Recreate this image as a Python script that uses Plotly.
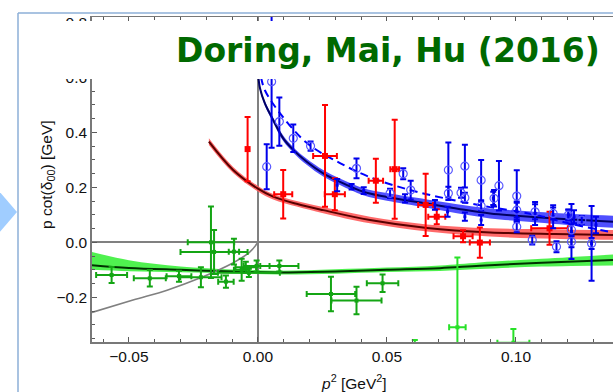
import plotly.graph_objects as go

# ---------------- data ----------------
x_range = [-0.0643, 0.1376]
y_range = [-0.3625, 0.8193]

x_tickvals = [-0.05, 0.0, 0.05, 0.10]
y_tickvals = [-0.2, 0.0, 0.2, 0.4, 0.6, 0.8]

# blue fit (solid) with band
blue_p2 = [0.0, 0.0008, 0.0027, 0.0059, 0.0098, 0.0137, 0.0189, 0.0253, 0.0318, 0.0408,
           0.05, 0.0655, 0.08, 0.09, 0.1, 0.115, 0.1376]
blue_v = [0.62, 0.56, 0.505, 0.445, 0.378, 0.336, 0.293, 0.251, 0.22, 0.184,
          0.165, 0.141, 0.118, 0.105, 0.097, 0.087, 0.075]
blue_hw = [0.006, 0.007, 0.008, 0.009, 0.01, 0.01, 0.011, 0.012, 0.012, 0.013,
           0.014, 0.015, 0.017, 0.018, 0.019, 0.02, 0.022]

# blue dashed fit
dash_p2 = [0.0012, 0.0027, 0.0085, 0.019, 0.0318, 0.0434, 0.059, 0.075, 0.09, 0.1,
           0.109, 0.12, 0.13, 0.1376]
dash_v = [0.60, 0.553, 0.47, 0.361, 0.288, 0.237, 0.19, 0.155, 0.128, 0.113,
          0.097, 0.07, 0.05, 0.036]

# red fit with band
red_p2 = [-0.019, -0.0096, 0.0, 0.0059, 0.015, 0.0253, 0.0434, 0.0655, 0.09, 0.115, 0.1376]
red_v = [0.366, 0.263, 0.195, 0.166, 0.14, 0.117, 0.081, 0.052, 0.036, 0.03, 0.027]
red_hw = [0.012, 0.011, 0.01, 0.01, 0.01, 0.011, 0.012, 0.013, 0.015, 0.017, 0.018]

# green fit with band
green_p2 = [-0.0643, -0.05, -0.03, -0.01, 0.0085, 0.03, 0.05, 0.0705, 0.086, 0.11, 0.1376]
green_v = [-0.083, -0.093, -0.1, -0.106, -0.11, -0.106, -0.1, -0.094, -0.085, -0.074, -0.064]
green_lo = [-0.10, -0.105, -0.109, -0.113, -0.117, -0.114, -0.108, -0.104, -0.097, -0.088, -0.084]
green_hi = [-0.035, -0.065, -0.088, -0.099, -0.103, -0.098, -0.092, -0.084, -0.073, -0.06, -0.044]

# gray curve
gray_p2 = [-0.0643, -0.0484, -0.0352, -0.0225, -0.0097, -0.0031, 0.0]
gray_v = [-0.255, -0.21, -0.174, -0.13, -0.075, -0.035, 0.0]

# red data
red_x = [-0.004, 0.0098, 0.026, 0.0298, 0.0457, 0.053, 0.065, 0.0693, 0.0795, 0.086, 0.113]
red_y = [0.339, 0.175, 0.314, 0.175, 0.224, 0.266, 0.136, 0.093, 0.022, -0.001, 0.051]
red_xe = [0.0, 0.0035, 0.0046, 0.0039, 0.0028, 0.0017, 0.0029, 0.0033, 0.0037, 0.0039, 0.0071]
red_ye = [0.117, 0.088, 0.185, 0.058, 0.08, 0.18, 0.113, 0.027, 0.022, 0.055, 0.06]

# blue data, open circles
bo_x = [0.0034, 0.0053, 0.0083, 0.0137, 0.0204, 0.0382, 0.0512, 0.0563, 0.0592, 0.0738,
        0.0738, 0.0787, 0.0802, 0.0802, 0.0865, 0.0865, 0.0934, 0.0915, 0.1003, 0.1003,
        0.1003, 0.1074, 0.1063, 0.1144, 0.1157, 0.1203, 0.1215, 0.1215, 0.1255, 0.1293]
bo_y = [0.275, 0.584, 0.439, 0.378, 0.35, 0.269, 0.178, 0.249, 0.19, 0.263,
        0.178, 0.18, 0.277, 0.162, 0.226, 0.132, 0.206, 0.16, 0.168, 0.117,
        0.057, 0.111, 0.008, 0.105, -0.016, 0.099, 0.045, 0.002, 0.081, -0.004]
bo_e = [0.082, 0.24, 0.088, 0.05, 0.017, 0.036, 0.017, 0.02, 0.034, 0.1,
        0.024, 0.018, 0.078, 0.018, 0.073, 0.016, 0.09, 0.03, 0.094, 0.027,
        0.02, 0.027, 0.016, 0.022, 0.02, 0.02, 0.02, 0.02, 0.015, 0.02]

# blue data, filled
bf_x = [0.0307, 0.0363, 0.041, 0.057, 0.0686, 0.0735, 0.0802, 0.0865, 0.0912, 0.1003,
        0.1074, 0.1144, 0.1203, 0.1215, 0.1225, 0.1293, 0.131]
bf_y = [0.208, 0.202, 0.188, 0.16, 0.136, 0.111, 0.093, 0.081, 0.16, 0.115,
        0.105, 0.093, 0.1, 0.039, 0.093, -0.004, 0.063]
bf_e = [0.022, 0.01, 0.012, 0.015, 0.018, 0.018, 0.015, 0.018, 0.024, 0.033,
        0.042, 0.042, 0.018, 0.1, 0.024, 0.136, 0.03]

# dark green data
g_x = [-0.0567, -0.0419, -0.0306, -0.0221, -0.0182, -0.017, -0.0093, -0.0124, -0.0063,
       -0.0047, -0.0005, 0.0083, -0.0035, 0.0283, 0.0382, 0.0483]
g_y = [-0.119, -0.131, -0.123, -0.127, 0.0, -0.035, -0.034, -0.143, -0.1,
       -0.091, -0.086, -0.086, -0.111, -0.188, -0.212, -0.149]
g_xe = [0.006, 0.0062, 0.0048, 0.008, 0.009, 0.013, 0.002, 0.003, 0.003,
        0.004, 0.005, 0.0074, 0.012, 0.0094, 0.0097, 0.0061]
g_ye = [0.029, 0.03, 0.02, 0.036, 0.13, 0.08, 0.047, 0.022, 0.04,
        0.02, 0.02, 0.02, 0.015, 0.063, 0.05, 0.032]

# light green data
lg_x = [0.0773, 0.0608, 0.099]
lg_y = [-0.309, -0.40, -0.365]
lg_xe = [0.0032, 0.0, 0.0062]
lg_ye = [0.254, 0.045, 0.05]

title_text = "Doring, Mai, Hu (2016)"

# ---------------- figure ----------------
W, H = 613, 392
L, R, T, B = 92, 0, 17, 50


def pxx(px):
    return (px - L) / (W - L - R)


def pxy(py):
    return (H - B - py) / (H - T - B)


fig = go.Figure()


def add_band(x, lo, hi, color):
    fig.add_trace(go.Scatter(x=x, y=lo, mode="lines", line=dict(width=0, shape="spline"),
                             hoverinfo="skip", showlegend=False))
    fig.add_trace(go.Scatter(x=x, y=hi, mode="lines", line=dict(width=0, shape="spline"),
                             fill="tonexty", fillcolor=color, hoverinfo="skip", showlegend=False))


# green
add_band(green_p2, green_lo, green_hi, "rgba(60,240,60,0.9)")
fig.add_trace(go.Scatter(x=green_p2, y=green_v, mode="lines",
                         line=dict(color="rgb(0,50,0)", width=2, shape="spline"), showlegend=False))
# gray
fig.add_trace(go.Scatter(x=gray_p2, y=gray_v, mode="lines",
                         line=dict(color="rgb(128,128,128)", width=1.6, shape="spline"), showlegend=False))
# red
add_band(red_p2, [v - h for v, h in zip(red_v, red_hw)], [v + h for v, h in zip(red_v, red_hw)],
         "rgba(255,90,90,0.9)")
fig.add_trace(go.Scatter(x=red_p2, y=red_v, mode="lines",
                         line=dict(color="rgb(90,0,0)", width=2, shape="spline"), showlegend=False))
# blue
add_band(blue_p2, [v - h for v, h in zip(blue_v, blue_hw)], [v + h for v, h in zip(blue_v, blue_hw)],
         "rgba(60,60,255,0.9)")
fig.add_trace(go.Scatter(x=blue_p2, y=blue_v, mode="lines",
                         line=dict(color="rgb(0,0,100)", width=2, shape="spline"), showlegend=False))
fig.add_trace(go.Scatter(x=dash_p2, y=dash_v, mode="lines",
                         line=dict(color="rgb(0,0,255)", width=2, shape="spline", dash="8px,5px"),
                         showlegend=False))

# data
fig.add_trace(go.Scatter(
    x=g_x, y=g_y, mode="markers", showlegend=False,
    marker=dict(symbol="square", size=4, color="rgb(20,165,20)"),
    error_y=dict(type="data", array=g_ye, color="rgb(20,165,20)", thickness=2, width=3),
    error_x=dict(type="data", array=g_xe, color="rgb(20,165,20)", thickness=2, width=3)))
fig.add_trace(go.Scatter(
    x=lg_x, y=lg_y, mode="markers", showlegend=False,
    marker=dict(symbol="square", size=4, color="rgb(40,225,40)"),
    error_y=dict(type="data", array=lg_ye, color="rgb(40,225,40)", thickness=2, width=3),
    error_x=dict(type="data", array=lg_xe, color="rgb(40,225,40)", thickness=2, width=3)))
fig.add_trace(go.Scatter(
    x=red_x, y=red_y, mode="markers", showlegend=False,
    marker=dict(symbol="square", size=6, color="rgb(255,0,0)"),
    error_y=dict(type="data", array=red_ye, color="rgb(255,0,0)", thickness=2, width=3),
    error_x=dict(type="data", array=red_xe, color="rgb(255,0,0)", thickness=2, width=3)))
fig.add_trace(go.Scatter(
    x=bf_x, y=bf_y, mode="markers", showlegend=False,
    marker=dict(symbol="square", size=3, color="rgb(0,0,235)"),
    error_y=dict(type="data", array=bf_e, color="rgb(0,0,235)", thickness=2, width=3)))
fig.add_trace(go.Scatter(
    x=bo_x, y=bo_y, mode="markers", showlegend=False,
    marker=dict(symbol="circle-open", size=8, color="rgb(90,90,255)", line=dict(width=1.2)),
    error_y=dict(type="data", array=bo_e, color="rgb(0,0,235)", thickness=2, width=3)))

axis_common = dict(showline=True, linecolor="rgb(120,120,120)", linewidth=1.5,
                   ticks="inside", ticklen=5, tickwidth=1, tickcolor="rgb(90,90,90)",
                   showgrid=False, zeroline=True, zerolinecolor="rgb(128,128,128)",
                   zerolinewidth=1.5,
                   tickfont=dict(family="Liberation Sans", size=15.5, color="#111"))

fig.update_xaxes(range=x_range, tickvals=x_tickvals, tickformat=".2f", mirror="ticks",
                 minor=dict(dtick=0.01, ticks="inside", ticklen=3, tickcolor="rgb(90,90,90)"),
                 **axis_common)
fig.update_yaxes(range=y_range, tickvals=y_tickvals, tickformat=".1f", mirror=False,
                 minor=dict(dtick=0.05, ticks="inside", ticklen=3, tickcolor="rgb(90,90,90)"),
                 **axis_common)

shapes = [
    # white panel behind title
    dict(type="rect", xref="paper", yref="paper", x0=pxx(25), x1=pxx(640), y0=pxy(79), y1=pxy(21),
         fillcolor="white", line=dict(width=0), layer="above"),
    dict(type="rect", xref="paper", yref="paper", x0=pxx(25), x1=pxx(640), y0=pxy(16), y1=pxy(-5),
         fillcolor="white", line=dict(width=0), layer="above"),
    # slide frame
    dict(type="line", xref="paper", yref="paper", x0=pxx(18), x1=pxx(18), y0=pxy(13), y1=pxy(400),
         line=dict(color="rgb(140,175,215)", width=1.5), layer="above"),
    dict(type="line", xref="paper", yref="paper", x0=pxx(18), x1=pxx(640), y0=pxy(13), y1=pxy(13),
         line=dict(color="rgb(140,175,215)", width=1.5), layer="above"),
    # arrow
    dict(type="path", xref="paper", yref="paper",
         path="M {},{} L {},{} L {},{} Z".format(pxx(-2), pxy(190), pxx(17), pxy(212), pxx(-2), pxy(234)),
         fillcolor="rgb(160,205,255)", line=dict(width=0), layer="above"),
]

annotations = [
    dict(text="<b>" + title_text + "</b>", xref="paper", yref="paper", x=pxx(388), y=pxy(50),
         xanchor="center", yanchor="middle", showarrow=False,
         font=dict(family="DejaVu Sans", size=33, color="rgb(0,105,0)")),
    dict(text="<i>p</i><sup>2</sup> [GeV<sup>2</sup>]", xref="paper", yref="paper", x=pxx(354), y=pxy(382),
         xanchor="center", yanchor="middle", showarrow=False,
         font=dict(family="Liberation Sans", size=15.5, color="#111")),
    dict(text="p cot(δ<sub>00</sub>) [GeV]", xref="paper", yref="paper", x=pxx(47), y=pxy(175),
         xanchor="center", yanchor="middle", showarrow=False, textangle=-90,
         font=dict(family="Liberation Sans", size=15.5, color="#111")),
]

fig.update_layout(width=W, height=H, margin=dict(l=L, r=R, t=T, b=B, autoexpand=False),
                  plot_bgcolor="white", paper_bgcolor="white", showlegend=False,
                  shapes=shapes, annotations=annotations)

fig.write_html("out.html")
